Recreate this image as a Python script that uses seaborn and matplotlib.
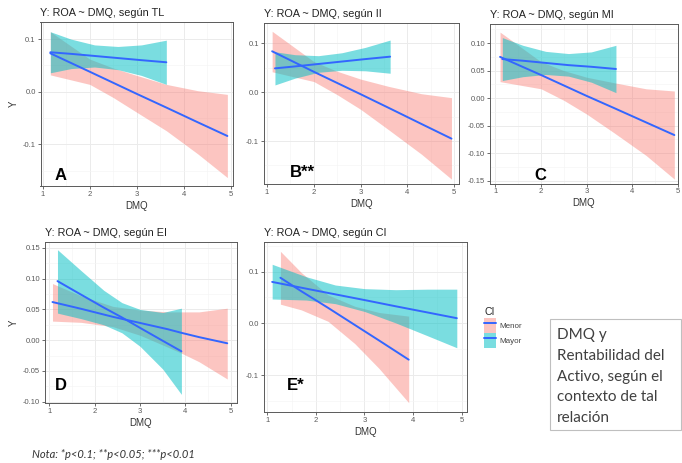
import matplotlib
matplotlib.use("Agg")
import matplotlib.pyplot as plt
import seaborn as sns
import pandas as pd
from matplotlib.patches import Patch, Rectangle
from matplotlib.lines import Line2D
from matplotlib.ticker import MultipleLocator, FixedLocator

sns.set_theme(style="white")
plt.rcParams['font.family'] = ['Liberation Sans', 'DejaVu Sans']
plt.rcParams['axes.unicode_minus'] = False

# ---------------- data ----------------
groups = ["Menor", "Mayor"]
panel_titles = ["Y: ROA ~ DMQ, según TL", "Y: ROA ~ DMQ, según II", "Y: ROA ~ DMQ, según MI",
                "Y: ROA ~ DMQ, según EI", "Y: ROA ~ DMQ, según CI"]
panel_tags = ["A", "B**", "C", "D", "E*"]
x_ticks = [1, 2, 3, 4, 5]
legend_title = "CI"
box_text = "DMQ y\nRentabilidad del\nActivo, según el\ncontexto de tal\nrelación"
note_text = "Nota: *p<0.1; **p<0.05; ***p<0.01"

# Panel A (TL)
A_menor_x = [1.16, 2.0, 2.5, 3.0, 3.63, 4.3, 4.93]
A_menor_fit = [0.073, 0.038, 0.017, -0.004, -0.030, -0.058, -0.084]
A_menor_lo = [0.032, 0.014, -0.011, -0.039, -0.074, -0.118, -0.163]
A_menor_hi = [0.114, 0.062, 0.045, 0.031, 0.014, 0.002, -0.005]
A_mayor_x = [1.16, 1.6, 2.1, 2.6, 3.1, 3.63]
A_mayor_fit = [0.075, 0.072, 0.068, 0.064, 0.060, 0.056]
A_mayor_lo = [0.036, 0.044, 0.047, 0.042, 0.031, 0.014]
A_mayor_hi = [0.114, 0.100, 0.089, 0.086, 0.089, 0.098]

# Panel B (II)
B_menor_x = [1.11, 2.0, 2.5, 3.0, 3.6, 4.3, 4.94]
B_menor_fit = [0.084, 0.042, 0.019, -0.004, -0.032, -0.065, -0.095]
B_menor_lo = [0.042, 0.022, -0.005, -0.035, -0.077, -0.127, -0.178]
B_menor_hi = [0.125, 0.063, 0.043, 0.027, 0.012, -0.003, -0.011]
B_mayor_x = [1.17, 1.6, 2.1, 2.6, 3.1, 3.63]
B_mayor_fit = [0.049, 0.053, 0.058, 0.063, 0.068, 0.073]
B_mayor_lo = [0.015, 0.029, 0.041, 0.045, 0.044, 0.039]
B_mayor_hi = [0.083, 0.077, 0.075, 0.081, 0.092, 0.107]

# Panel C (MI)
C_menor_x = [1.1, 2.0, 2.5, 3.0, 3.6, 4.3, 4.92]
C_menor_fit = [0.075, 0.042, 0.023, 0.004, -0.018, -0.044, -0.067]
C_menor_lo = [0.030, 0.017, -0.004, -0.029, -0.063, -0.104, -0.147]
C_menor_hi = [0.120, 0.066, 0.050, 0.038, 0.028, 0.017, 0.013]
C_mayor_x = [1.15, 1.6, 2.1, 2.6, 3.1, 3.64]
C_mayor_fit = [0.071, 0.068, 0.064, 0.060, 0.057, 0.053]
C_mayor_lo = [0.032, 0.039, 0.043, 0.040, 0.029, 0.010]
C_mayor_hi = [0.110, 0.096, 0.085, 0.081, 0.084, 0.096]

# Panel D (EI)
D_menor_x = [1.07, 1.7, 2.4, 3.0, 3.6, 3.91, 4.3, 4.92]
D_menor_fit = [0.062, 0.051, 0.038, 0.028, 0.018, 0.012, 0.005, -0.005]
D_menor_lo = [0.031, 0.029, 0.022, 0.008, -0.011, -0.021, -0.035, -0.063]
D_menor_hi = [0.092, 0.072, 0.055, 0.049, 0.046, 0.046, 0.046, 0.052]
D_mayor_x = [1.18, 1.7, 2.2, 2.6, 3.0, 3.5, 3.91]
D_mayor_fit = [0.096, 0.074, 0.053, 0.037, 0.020, -0.001, -0.018]
D_mayor_lo = [0.044, 0.035, 0.025, 0.012, -0.010, -0.047, -0.088]
D_mayor_hi = [0.147, 0.113, 0.081, 0.061, 0.050, 0.045, 0.052]

# Panel E (CI)
E_menor_x = [1.27, 1.7, 2.25, 2.8, 3.3, 3.91]
E_menor_fit = [0.088, 0.062, 0.030, -0.003, -0.033, -0.070]
E_menor_lo = [0.037, 0.026, 0.004, -0.039, -0.087, -0.153]
E_menor_hi = [0.139, 0.098, 0.055, 0.033, 0.021, 0.014]
E_mayor_x = [1.1, 1.8, 2.4, 3.0, 3.64, 4.3, 4.9]
E_mayor_fit = [0.080, 0.067, 0.056, 0.045, 0.033, 0.021, 0.010]
E_mayor_lo = [0.047, 0.045, 0.038, 0.023, 0.001, -0.024, -0.047]
E_mayor_hi = [0.114, 0.090, 0.074, 0.067, 0.065, 0.066, 0.066]

y_ticks_A = [-0.1, 0.0, 0.1]
y_ticks_B = [-0.1, 0.0, 0.1]
y_ticks_C = [-0.15, -0.10, -0.05, 0.00, 0.05, 0.10]
y_ticks_D = [-0.10, -0.05, 0.00, 0.05, 0.10, 0.15]
y_ticks_E = [-0.1, 0.0, 0.1]

# ---------------- styling / layout ----------------
W, H = 682, 463
fill_colors = {"Menor": "#F8766D", "Mayor": "#00BFC4"}
fill_alpha = {"Menor": 0.42, "Mayor": 0.52}
line_color = "#3366FF"

def frame(l, t, r, b):
    return [l / W, 1 - b / H, (r - l) / W, (b - t) / H]

panels = [
    dict(rect=frame(40.5, 22, 233, 186), xlim=(0.95, 5.05), ylim=(-0.179, 0.1325),
         yt=y_ticks_A, fmt="%.1f", ystep=0.05, ylabel=True,
         data=[(A_menor_x, A_menor_fit, A_menor_lo, A_menor_hi), (A_mayor_x, A_mayor_fit, A_mayor_lo, A_mayor_hi)],
         tag=(55, 180)),
    dict(rect=frame(264, 22.5, 458.5, 184), xlim=(0.936, 5.09), ylim=(-0.188, 0.143),
         yt=y_ticks_B, fmt="%.1f", ystep=0.05, ylabel=False,
         data=[(B_menor_x, B_menor_fit, B_menor_lo, B_menor_hi), (B_mayor_x, B_mayor_fit, B_mayor_lo, B_mayor_hi)],
         tag=(290, 177)),
    dict(rect=frame(490, 23.5, 678, 183.5), xlim=(0.88, 5.0), ylim=(-0.155, 0.1356),
         yt=y_ticks_C, fmt="%.2f", ystep=0.025, ylabel=False,
         data=[(C_menor_x, C_menor_fit, C_menor_lo, C_menor_hi), (C_mayor_x, C_mayor_fit, C_mayor_lo, C_mayor_hi)],
         tag=(534, 180)),
    dict(rect=frame(45, 241.7, 237, 403), xlim=(0.905, 5.135), ylim=(-0.102, 0.160),
         yt=y_ticks_D, fmt="%.2f", ystep=0.025, ylabel=True,
         data=[(D_menor_x, D_menor_fit, D_menor_lo, D_menor_hi), (D_mayor_x, D_mayor_fit, D_mayor_lo, D_mayor_hi)],
         tag=(55, 390)),
    dict(rect=frame(264, 242, 467, 412), xlim=(0.932, 5.11), ylim=(-0.171, 0.157),
         yt=y_ticks_E, fmt="%.1f", ystep=0.05, ylabel=False,
         data=[(E_menor_x, E_menor_fit, E_menor_lo, E_menor_hi), (E_mayor_x, E_mayor_fit, E_mayor_lo, E_mayor_hi)],
         tag=(287, 390)),
]

fig = plt.figure(figsize=(W / 100, H / 100), dpi=100)
fig.patch.set_facecolor("white")

for i, p in enumerate(panels):
    ax = fig.add_axes(p["rect"])
    ax.set_facecolor("white")
    for g, (xs, fit, lo, hi) in zip(groups, p["data"]):
        ax.fill_between(xs, lo, hi, color=fill_colors[g], alpha=fill_alpha[g], linewidth=0, zorder=2)
        df = pd.DataFrame({"DMQ": xs, "Y": fit})
        sns.lineplot(data=df, x="DMQ", y="Y", ax=ax, color=line_color, linewidth=1.4,
                     zorder=3, legend=False)
    ax.set_xlim(*p["xlim"])
    ax.set_ylim(*p["ylim"])
    ax.xaxis.set_major_locator(FixedLocator(x_ticks))
    ax.xaxis.set_minor_locator(MultipleLocator(0.5))
    ax.yaxis.set_major_locator(FixedLocator(p["yt"]))
    ax.yaxis.set_minor_locator(MultipleLocator(p["ystep"]))
    ax.set_xticklabels([str(v) for v in x_ticks])
    ax.set_yticklabels([p["fmt"] % v for v in p["yt"]])
    ax.grid(True, which="major", color="#EBEBEB", linewidth=0.7, zorder=0)
    ax.grid(True, which="minor", color="#F4F4F4", linewidth=0.4, zorder=0)
    ax.set_axisbelow(True)
    for s in ax.spines.values():
        s.set_color("#5A5A5A")
        s.set_linewidth(0.7)
    ax.tick_params(which="major", length=2, width=0.5, color="#333333", labelsize=5.5,
                   labelcolor="#5A5A5A", pad=1.5, bottom=True, left=True)
    ax.tick_params(which="minor", length=0)
    ax.set_xlabel("DMQ", fontsize=7, color="#333333", labelpad=2)
    if p["ylabel"]:
        ax.set_ylabel("Y", fontsize=7, color="#333333", labelpad=3)
    else:
        ax.set_ylabel("")
    ax.set_title(panel_titles[i], loc="left", fontsize=7.8, color="#222222", pad=4)
    tx, ty = p["tag"]
    fig.text(tx / W, 1 - ty / H, panel_tags[i], fontsize=12, fontweight="bold",
             color="black", va="baseline", ha="left")

# legend for panel E
handles = [(Patch(facecolor=fill_colors[g], alpha=fill_alpha[g], edgecolor="none"),
            Line2D([], [], color=line_color, linewidth=1.4)) for g in groups]
leg = fig.legend(handles, groups, title=legend_title, loc="upper left",
                 bbox_to_anchor=(477 / W, 1 - 300 / H), frameon=False,
                 fontsize=5.8, title_fontsize=7.5, handlelength=1.4, handleheight=2.4,
                 labelspacing=0.1, handletextpad=0.5, alignment="left")
for t in leg.get_texts():
    t.set_color("#444444")

# descriptive text box
fig.patches.append(Rectangle((550 / W, 1 - 430 / H), 131 / W, 111 / H, transform=fig.transFigure,
                             facecolor="white", edgecolor="#BFBFBF", linewidth=0.8))
fig.text(557 / W, 1 - 328 / H, box_text, family=["Lato", "DejaVu Sans"], fontsize=11,
         color="#404040", va="top", ha="left", linespacing=1.62)

# note
fig.text(32 / W, 1 - 454 / H, note_text, family=["Lato", "DejaVu Sans"], style="italic",
         fontsize=8, color="#333333", va="center", ha="left")

fig.savefig("out.png", dpi=100, facecolor="white")
